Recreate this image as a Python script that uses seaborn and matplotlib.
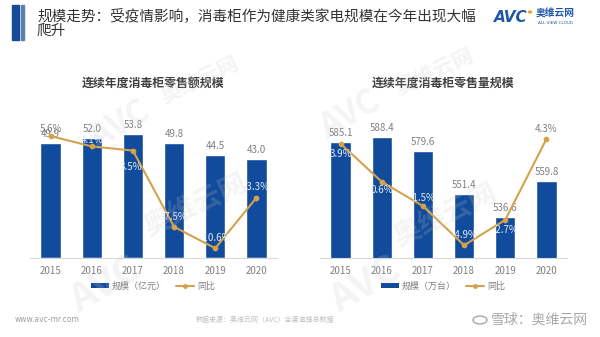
import matplotlib
matplotlib.use("Agg")
import matplotlib.pyplot as plt
from matplotlib.patches import Rectangle, Patch, Circle
from matplotlib.lines import Line2D
import seaborn as sns

sns.set_style("white")
plt.rcParams["font.family"] = ["Noto Sans CJK SC", "DejaVu Sans"]
plt.rcParams["axes.unicode_minus"] = False

# ---- data ----
years = ["2015", "2016", "2017", "2018", "2019", "2020"]
sales_value = [49.9, 52.0, 53.8, 49.8, 44.5, 43.0]        # 亿元
sales_value_yoy = [5.6, 4.1, 3.5, -7.5, -10.6, -3.3]      # %
sales_volume = [585.1, 588.4, 579.6, 551.4, 536.6, 559.8]  # 万台
sales_volume_yoy = [3.9, 0.6, -1.5, -4.9, -2.7, 4.3]      # %

title_main = "规模走势：受疫情影响，消毒柜作为健康类家电规模在今年出现大幅\n爬升"
left_title = "连续年度消毒柜零售额规模"
right_title = "连续年度消毒柜零售量规模"
left_bar_name = "规模（亿元）"
right_bar_name = "规模（万台）"
yoy_name = "同比"

BAR = "#114B9B"
LINE = "#D4A24C"
GRAY = "#808080"
ON_BAR = "#E4ECF7"

W, H = 600, 337
fig = plt.figure(figsize=(W / 100, H / 100), dpi=100)


def fx(px):
    return px / W


def fy(py):
    return 1 - py / H


def make_panel(left_px, values, yoy, ylim, ylim2, title, bar_name,
               pct_offsets, pct_colors):
    top, bottom = 119.4, 258
    ax = fig.add_axes([fx(left_px), fy(bottom), 247 / W, (bottom - top) / H])
    sns.barplot(x=years, y=values, ax=ax, color=BAR, saturation=1,
                width=0.49, zorder=2)
    ax.set_ylim(*ylim)
    ax.set_xlim(-0.5, 5.5)
    ax.bar_label(ax.containers[0], labels=[f"{v:.1f}" for v in values],
                 padding=3, color=GRAY, fontsize=7)
    for s in ["top", "right", "left"]:
        ax.spines[s].set_visible(False)
    ax.spines["bottom"].set_color("#D9D9D9")
    ax.spines["bottom"].set_linewidth(0.8)
    ax.set_yticks([])
    ax.set_xlabel("")
    ax.set_ylabel("")
    ax.tick_params(axis="x", length=0, pad=6, labelsize=7, labelcolor=GRAY)

    ax2 = ax.twinx()
    sns.pointplot(x=years, y=yoy, ax=ax2, color=LINE, markers="o",
                  markersize=3, linewidth=1.5)
    ax2.set_ylim(*ylim2)
    ax2.set_xlim(-0.5, 5.5)
    ax2.set_yticks([])
    ax2.set_ylabel("")
    for s in ["top", "right", "left", "bottom"]:
        ax2.spines[s].set_visible(False)
    for i, (v, (dx, dy), c) in enumerate(zip(yoy, pct_offsets, pct_colors)):
        ax2.annotate(f"{v:.1f}%", (i, v), xytext=(dx, dy),
                     textcoords="offset pixels", ha="center", va="center",
                     fontsize=7, color=c, zorder=5)

    cx = left_px + 123
    fig.text(fx(cx), fy(83), title, ha="center", va="center",
             fontsize=8.6, fontweight="bold", color="#404040")
    handles = [Patch(facecolor=BAR, edgecolor="none"),
               Line2D([], [], color=LINE, lw=1.5, marker="o", markersize=2.5)]
    fig.legend(handles, [bar_name, yoy_name], loc="center",
               bbox_to_anchor=(fx(cx), fy(286)), ncol=2, frameon=False,
               fontsize=6.5, labelcolor=GRAY, handlelength=2.0,
               handleheight=0.45, handletextpad=0.3, columnspacing=1.2)
    return ax


make_panel(30, sales_value, sales_value_yoy, (0, 60), (-12, 8),
           left_title, left_bar_name,
           [(0, 7), (0, 6), (-2, -16), (0, 10), (0, 10), (0, 11)],
           [GRAY, ON_BAR, ON_BAR, ON_BAR, ON_BAR, ON_BAR])
make_panel(320, sales_volume, sales_volume_yoy, (510, 600), (-6, 6),
           right_title, right_bar_name,
           [(0, -10), (0, -8), (0, 8), (0, 10), (0, -10), (0, 10)],
           [ON_BAR, ON_BAR, ON_BAR, ON_BAR, ON_BAR, GRAY])

# ---- header ----
fig.patches.append(Rectangle((fx(12), fy(40)), 7 / W, 35 / H,
                             transform=fig.transFigure, color="#164C96"))
fig.patches.append(Rectangle((fx(21), fy(40)), 2.5 / W, 35 / H,
                             transform=fig.transFigure, color="#5B7FB0"))
fig.text(fx(37), fy(23), title_main, ha="left", va="center",
         fontsize=10.5, color="#333333", linespacing=1.05)

# logo
fig.text(fx(494), fy(17), "AVC", ha="left", va="center", fontsize=11,
         fontweight="bold", fontstyle="italic", color="#1F57A8",
         family=["DejaVu Sans"])
fig.patches.append(Circle((fx(530), fy(12)), 1.5 / W,
                          transform=fig.transFigure, color="#F0A020"))
fig.text(fx(536), fy(14), "奥维云网", ha="left", va="center", fontsize=7,
         fontweight="bold", color="#1F57A8")
fig.text(fx(538), fy(23), "ALL VIEW CLOUD", ha="left", va="center",
         fontsize=3, color="#1F57A8", family=["DejaVu Sans"])

# faint watermarks
wm = dict(color="#C8C8C8", alpha=0.2, ha="center", va="center",
          fontweight="bold", zorder=10)
for (x, y, s, size, rot) in [
    (105, 285, "AVC", 28, 30), (195, 205, "奥维云网", 20, 25),
    (120, 125, "AVC", 24, 30), (200, 80, "奥维云网", 15, 25),
    (365, 285, "AVC", 28, 30), (445, 215, "奥维云网", 20, 25),
    (350, 115, "AVC", 24, 30), (435, 72, "奥维云网", 15, 25),
]:
    fig.text(fx(x), fy(y), s, fontsize=size, rotation=rot, **wm)

# ---- footer ----
fig.text(fx(15), fy(320), "www.avc-mr.com", ha="left", va="center",
         fontsize=5.5, color="#A0A0A0", family=["DejaVu Sans"])
fig.text(fx(265), fy(320), "数据来源：奥维云网（AVC）全渠道推总数据",
         ha="center", va="center", fontsize=5, color="#C0C0C0")
fig.patches.append(Circle((fx(480), fy(320)), 7 / W,
                          transform=fig.transFigure, fill=False,
                          edgecolor="#A8A8A8", lw=1.0))
fig.text(fx(491), fy(320), "雪球：奥维云网", ha="left", va="center",
         fontsize=10, color="#A8A8A8")

fig.savefig("out.png", dpi=100)
